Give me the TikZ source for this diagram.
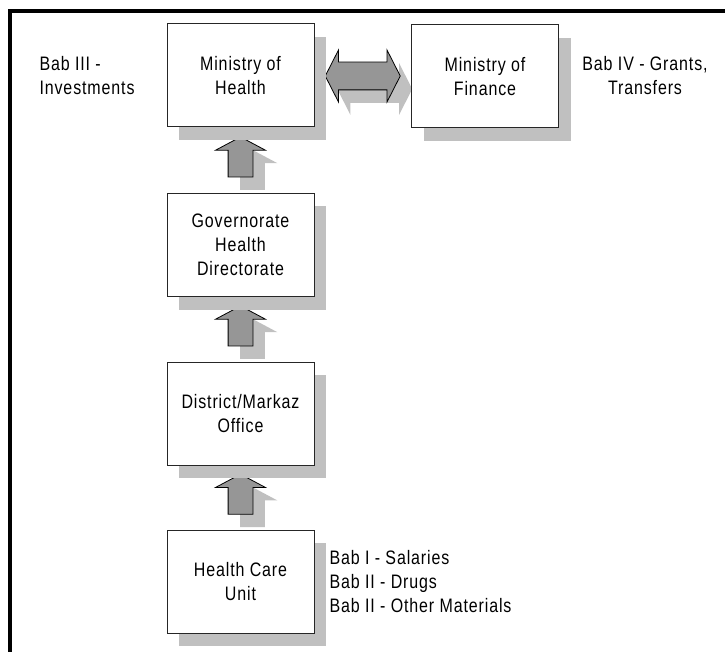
\documentclass[tikz,border=0pt]{standalone}
\usepackage{fontspec}
\setmainfont{Liberation Sans}[FakeStretch=0.82,LetterSpace=4.5]
\usetikzlibrary{shapes.arrows,shadows,backgrounds}
\definecolor{shadegray}{RGB}{192,192,192}
\definecolor{arrowgray}{RGB}{150,150,150}
\begin{document}
\begin{tikzpicture}[x=1pt,y=-1pt,font=\fontsize{19.5}{24}\selectfont,
    shd/.style={drop shadow={shadow xshift=12pt,shadow yshift=-13pt,fill=shadegray,opacity=1}},
    box/.style={draw=black!85,line width=1pt,fill=white,minimum width=147pt,minimum height=103pt,align=center,shd},
    uparrow/.style={single arrow,draw=black,line width=0.8pt,fill=arrowgray,inner sep=12pt,single arrow head extend=12.5pt,single arrow tip angle=124,minimum height=40pt,shape border rotate=90,shd},
    lrarrow/.style={double arrow,draw=black,line width=0.8pt,fill=arrowgray,inner sep=13.5pt,double arrow head extend=12pt,double arrow tip angle=126,minimum height=75pt,shd}]
                \useasboundingbox(0,0)rectangle(725,652);
                \draw[line width=4pt](10,652)--(10,11)--(725,11);
                \node[box](1)at(240.5,75.5){Ministry of\\Health};
                \node[box](2)at(485,76.5){Ministry of\\Finance};
                \node[box](3)at(240.5,245){Governorate\\Health\\Directorate};
                \node[box](4)at(240.5,413.5){District/Markaz\\Office};
                \node[box](5)at(240.5,581.5){Health Care\\Unit};
                \node[anchor=west,align=left](6)at(36,76){Bab III -\\Investments};
                \node[align=center](7)at(645,76){Bab IV - Grants,\\Transfers};
                \node[anchor=west,align=left](8)at(326,581.5){Bab I - Salaries\\Bab II - Drugs\\Bab II - Other Materials};
                \begin{scope}[on background layer]
                \path(1)--(2)node[midway,lrarrow]{};
                \path(3)--(1)node[midway,uparrow]{};
                \path(4)--(3)node[midway,uparrow]{};
                \path(5)--(4)node[midway,uparrow]{};
                \end{scope}
            \end{tikzpicture}
\end{document}
